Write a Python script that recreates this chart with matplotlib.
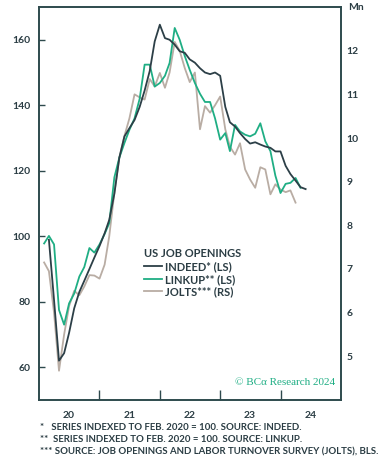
import matplotlib
matplotlib.use("Agg")
import matplotlib.pyplot as plt
import pandas as pd

plt.rcParams["font.family"] = ["Lato", "DejaVu Sans"]

# ----------------------------------------------------------
# Data (monthly)
# ----------------------------------------------------------

indeed_start = "2020-03-01"
indeed = [
    98.9, 80.5, 62.0, 64.3, 70.5, 78.0, 83.0, 86.4, 90.0, 93.5,
    97.0, 100.9, 105.0, 113.0, 124.0, 130.5, 133.0, 135.5, 139.5, 144.5,
    150.5, 159.5, 164.6, 160.5, 160.0, 158.5, 156.5, 156.0, 154.0, 153.0,
    151.3, 150.0, 149.5, 150.0, 149.0, 139.5, 134.8, 133.5, 131.5, 129.7,
    128.3, 128.7, 128.0, 127.4, 127.0, 125.9, 125.9, 121.5, 119.0, 117.0,
    115.0, 114.4,
]

linkup_start = "2020-02-01"
linkup = [
    97.8, 100.1, 97.5, 77.5, 73.0, 79.5, 82.5, 87.7, 90.6, 96.4,
    95.0, 97.5, 100.7, 104.0, 118.0, 124.0, 128.5, 132.5, 136.0, 142.0,
    152.4, 152.4, 145.7, 146.8, 149.0, 152.9, 163.6, 160.0, 155.0, 150.8,
    146.8, 143.5, 141.0, 141.0, 136.0, 129.5, 131.5, 126.0, 134.0, 132.0,
    131.0, 130.5, 131.3, 134.5, 129.0, 126.0, 118.5, 113.2, 116.0, 116.3,
    117.8, 114.8,
]

jolts_start = "2020-02-01"
jolts = [
    7.15, 6.95, 6.0, 4.67, 5.5, 6.15, 6.5, 6.4, 6.6, 6.86,
    6.85, 6.78, 7.1, 7.75, 8.75, 9.55, 10.05, 10.45, 11.0, 10.93,
    10.88, 11.35, 11.18, 11.49, 11.15, 11.5, 12.2, 12.0, 11.6, 11.28,
    11.5, 10.2, 10.73, 10.58, 10.75, 10.95, 10.2, 9.8, 9.62, 9.88,
    9.28, 9.05, 8.86, 9.33, 9.28, 8.71, 8.94, 8.82, 8.76, 8.8,
    8.52,
]

year_labels = ["20", "21", "22", "23", "24"]
left_ticks = [60, 80, 100, 120, 140, 160]
right_ticks = [5, 6, 7, 8, 9, 10, 11, 12]

legend_title = "US JOB OPENINGS"
legend_labels = ["INDEED* (LS)", "LINKUP** (LS)", "JOLTS*** (RS)"]

footnotes = [
    "*   SERIES INDEXED TO FEB. 2020 = 100. SOURCE: INDEED.",
    "**  SERIES INDEXED TO FEB. 2020 = 100. SOURCE: LINKUP.",
    "*** SOURCE: JOB OPENINGS AND LABOR TURNOVER SURVEY (JOLTS), BLS.",
]

# ----------------------------------------------------------
# Style
# ----------------------------------------------------------

DARK = "#2c3f47"
GREEN = "#1fae84"
GRAY = "#b9ada4"
FRAME = "#2e4a4d"
TEXT = "#2b3d44"

fig = plt.figure(figsize=(3.85, 4.62), dpi=100)
ax = fig.add_axes([39 / 385, 1 - 400 / 462, 302 / 385, 393 / 462])
ax2 = ax.twinx()

ax.set_zorder(ax2.get_zorder() + 1)
ax.patch.set_visible(False)


def months(start, n):
    return pd.date_range(start, periods=n, freq="MS")


ax2.plot(months(jolts_start, len(jolts)), jolts, color=GRAY, lw=1.3)
ax.plot(months(linkup_start, len(linkup)), linkup, color=GREEN, lw=1.3)
ax.plot(months(indeed_start, len(indeed)), indeed, color=DARK, lw=1.3)

ax.set_xlim(pd.Timestamp("2020-01-01"), pd.Timestamp("2025-01-01"))
ax.set_ylim(50, 170)
ax2.set_ylim(4, 13)

# year boundaries as tick marks, labels at mid-year
ax.set_xticks([pd.Timestamp(f"{y}-01-01") for y in range(2021, 2025)])
ax.set_xticklabels([])
ax.set_xticks([pd.Timestamp(f"{y}-07-01") for y in range(2020, 2025)], minor=True)
ax.set_xticklabels(year_labels, minor=True)
ax.tick_params(axis="x", which="major", direction="in", length=7, width=1, color=FRAME)
ax.tick_params(axis="x", which="minor", length=0, pad=8, labelsize=7.5,
               labelcolor=TEXT)

ax.set_yticks(left_ticks)
ax.tick_params(axis="y", direction="in", length=4, width=1, color=FRAME,
               pad=6, labelsize=7.5, labelcolor=TEXT)
ax2.set_yticks(right_ticks)
ax2.tick_params(axis="y", direction="in", length=0, pad=4, labelsize=7.5,
                labelcolor=TEXT)

for lab in ax.get_xticklabels(minor=True) + ax.get_yticklabels() + ax2.get_yticklabels():
    lab.set_fontweight("bold")

for a in (ax, ax2):
    for s in a.spines.values():
        s.set_color(FRAME)
        s.set_linewidth(1.2)

fig.text(348 / 385, 1 - 7 / 462, "Mn", fontsize=7.5, fontweight="bold",
         color=TEXT, ha="left", va="center")

# ----------------------------------------------------------
# Legend
# ----------------------------------------------------------

handles = [
    plt.Line2D([], [], color=DARK, lw=1.3),
    plt.Line2D([], [], color=GREEN, lw=1.3),
    plt.Line2D([], [], color=GRAY, lw=1.3),
]
leg = ax.legend(
    handles, legend_labels,
    title=legend_title,
    loc="upper left",
    bbox_to_anchor=(0.33, 0.40),
    frameon=False,
    fontsize=8,
    title_fontsize=8,
    handlelength=1.6,
    handletextpad=0.3,
    labelspacing=0.15,
    borderpad=0,
    alignment="left",
)
leg.get_title().set_fontweight("bold")
leg.get_title().set_color(TEXT)
for t in leg.get_texts():
    t.set_color(TEXT)
    t.set_fontweight("bold")

ax.text(0.98, 0.045, "\u00a9 BC\u03b1 Research 2024", transform=ax.transAxes,
        ha="right", va="center", fontsize=8, color=GREEN,
        family=["Liberation Serif", "DejaVu Serif"])

# ----------------------------------------------------------
# Footnotes
# ----------------------------------------------------------

for k, note in enumerate(footnotes):
    fig.text(40 / 385, 1 - (427 + 12.5 * k) / 462, note, fontsize=6.9,
             fontweight="bold", color=TEXT, ha="left", va="center")

fig.savefig("out.png", dpi=100, facecolor="white")
